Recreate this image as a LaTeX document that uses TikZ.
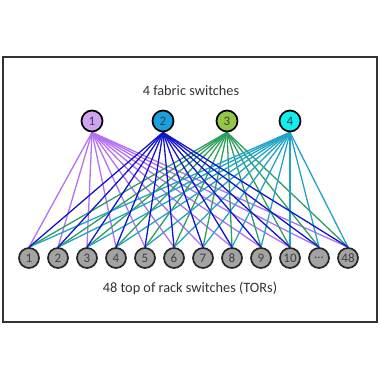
\documentclass[tikz,border=0pt]{standalone}
\usepackage{fontspec}
\setmainfont{Carlito}
\usetikzlibrary{positioning,backgrounds}
\definecolor{frameC}{HTML}{333333}
\definecolor{purpC}{HTML}{B370F2}
\definecolor{purpF}{HTML}{CFA5F2}
\definecolor{blueC}{HTML}{1414CC}
\definecolor{blueF}{HTML}{1AA0E0}
\definecolor{grnC}{HTML}{2E9E5E}
\definecolor{grnF}{HTML}{92C846}
\definecolor{tealC}{HTML}{22A2C6}
\definecolor{tealF}{HTML}{10EEF0}
\definecolor{torF}{HTML}{A3A3A3}
\tikzset{
  fabsw/.style={circle,draw=black,line width=1.7pt,minimum size=21pt,inner sep=0pt,font=\fontsize{13}{14}\selectfont,text=black!75},
  torsw/.style={circle,draw=black!85,line width=1.7pt,fill=torF,minimum size=20pt,inner sep=0pt,font=\fontsize{13}{14}\selectfont,text=black!75},
  captxt/.style={font=\fontsize{14.3}{16}\selectfont,text=black!80},
  link/.style={line width=1.3pt}}

\begin{document}
\begin{tikzpicture}[x=1pt,y=1pt]
\useasboundingbox (0,0) rectangle (380,380);
\draw[frameC,line width=1.4pt] (3,58) rectangle (377,323);
\node[captxt] (fabcap) at (191,289) {4 fabric switches};
\node[captxt] (torcap) at (190,92) {48 top of rack switches (TORs)};
% fabric switches
\node[fabsw,fill=purpF] (f1) at (92,259) {1};
\node[fabsw,fill=blueF] (f2) at (163,259) {2};
\node[fabsw,fill=grnF] (f3) at (227,259) {3};
\node[fabsw,fill=tealF] (f4) at (290,259) {4};
% TORs
\foreach \i/\lab in {1/1,2/2,3/3,4/4,5/5,6/6,7/7,8/8,9/9,10/10,11/{...},12/48}
  \node[torsw] (t\i) at ({29*\i},122) {\lab};
% links
\begin{scope}[on background layer]
\foreach \f/\c in {1/purpC,3/grnC,4/tealC,2/blueC}
  \foreach \i in {1,...,12}
    \draw[link,\c] (f\f.south) -- (t\i.north);
\end{scope}
\end{tikzpicture}
\end{document}
